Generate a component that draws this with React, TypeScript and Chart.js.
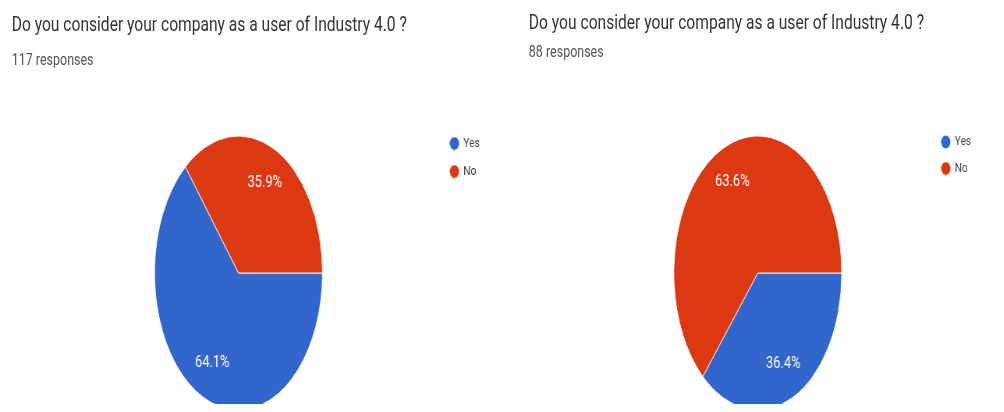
import React, { useEffect, useRef } from 'react';
import { Chart, registerables } from 'chart.js';

Chart.register(...registerables);

// ---- data ----
const TITLE = 'Do you consider your company as a user of Industry 4.0 ?';
const categories = ['Yes', 'No'];
const sliceColors = ['#3366CC', '#DC3912'];
const countsLeft = [75, 42]; // 117 responses -> 64.1% / 35.9%
const countsRight = [32, 56]; // 88 responses -> 36.4% / 63.6%
const subtitleLeft = '117 responses';
const subtitleRight = '88 responses';

// ---- geometry ----
const S = 0.78; // horizontal squeeze of the whole picture
const K = 0.786; // extra horizontal squeeze of the pies

function makeMarker(color: string) {
  const c = document.createElement('canvas');
  c.width = 13;
  c.height = 14;
  const ctx = c.getContext('2d')!;
  ctx.fillStyle = color;
  ctx.beginPath();
  ctx.ellipse(6.5, 7, 6, 6.5, 0, 0, Math.PI * 2);
  ctx.fill();
  return c;
}

const piePlugin = {
  id: 'squeezedPie',
  beforeDatasetsDraw(chart: any) {
    const arc = chart.getDatasetMeta(0).data[0];
    if (!arc) return;
    const ctx = chart.ctx;
    ctx.save();
    ctx.translate(arc.x, arc.y);
    ctx.scale(K, 1);
    ctx.translate(-arc.x, -arc.y);
  },
  afterDatasetsDraw(chart: any) {
    const meta = chart.getDatasetMeta(0);
    if (!meta.data[0]) return;
    const ctx = chart.ctx;
    ctx.restore();
    const data: number[] = chart.data.datasets[0].data;
    const total = data.reduce((a, b) => a + b, 0);
    ctx.save();
    ctx.fillStyle = '#ffffff';
    ctx.font = '16.5px Roboto';
    ctx.textAlign = 'center';
    ctx.textBaseline = 'middle';
    meta.data.forEach((arc: any, i: number) => {
      const { x, y, startAngle, endAngle, outerRadius } = arc.getProps(
        ['x', 'y', 'startAngle', 'endAngle', 'outerRadius'],
        true
      );
      const a = (startAngle + endAngle) / 2;
      const r = outerRadius * 0.73;
      const pct = ((data[i] / total) * 100).toFixed(1) + '%';
      ctx.fillText(pct, x + Math.cos(a) * r * K, y + Math.sin(a) * r);
    });
    ctx.restore();
  },
};

type PieProps = {
  counts: number[];
  left: number;
  width: number;
  height: number;
  legendGap: number;
};

function PiePanel({ counts, left, width, height, legendGap }: PieProps) {
  const ref = useRef<HTMLCanvasElement>(null);
  useEffect(() => {
    const markers = sliceColors.map((c) => makeMarker(c));
    const chart = new Chart(ref.current!, {
      type: 'pie',
      data: {
        labels: categories,
        datasets: [
          {
            data: counts,
            backgroundColor: sliceColors,
            borderColor: '#ffffff',
            borderWidth: 1,
            radius: 137,
          } as any,
        ],
      },
      options: {
        animation: false,
        responsive: true,
        maintainAspectRatio: false,
        rotation: 90,
        events: [],
        layout: { padding: { top: 122, bottom: 8, left: 0, right: 0 } },
        plugins: {
          tooltip: { enabled: false },
          legend: {
            position: 'right',
            align: 'start',
            labels: {
              usePointStyle: true,
              boxWidth: 10,
              boxHeight: 10,
              padding: legendGap,
              color: '#444444',
              font: { family: 'Roboto', size: 13 },
              generateLabels: () =>
                categories.map((t, i) => ({
                  text: t,
                  fillStyle: sliceColors[i],
                  strokeStyle: sliceColors[i],
                  lineWidth: 0,
                  pointStyle: markers[i],
                  hidden: false,
                  index: i,
                  fontColor: '#444444',
                })),
            },
          },
        },
      },
      plugins: [piePlugin],
    });
    return () => chart.destroy();
  }, []);
  return (
    <div style={{ position: 'absolute', left, top: 0, width, height }}>
      <canvas ref={ref} />
    </div>
  );
}

const titleStyle: React.CSSProperties = {
  position: 'absolute',
  fontFamily: 'Roboto, sans-serif',
  fontSize: 20,
  lineHeight: '24px',
  color: '#333333',
  whiteSpace: 'nowrap',
};
const subStyle: React.CSSProperties = {
  position: 'absolute',
  fontFamily: 'Roboto, sans-serif',
  fontSize: 16,
  lineHeight: '20px',
  color: '#555555',
  whiteSpace: 'nowrap',
};

export default function App() {
  return (
    <div
      style={{
        position: 'relative',
        width: 1004,
        height: 412,
        margin: -8,
        overflow: 'hidden',
        background: '#ffffff',
      }}
    >
      <div
        style={{
          position: 'absolute',
          left: 0,
          top: 0,
          width: 1004 / S,
          height: 412,
          transform: `scaleX(${S})`,
          transformOrigin: '0 0',
        }}
      >
        <div style={{ ...titleStyle, left: 15, top: 12 }}>{TITLE}</div>
        <div style={{ ...subStyle, left: 15, top: 50 }}>{subtitleLeft}</div>
        <div style={{ ...titleStyle, left: 678, top: 10 }}>{TITLE}</div>
        <div style={{ ...subStyle, left: 678, top: 42 }}>{subtitleRight}</div>
        <PiePanel counts={countsLeft} left={48.5} width={576} height={432} legendGap={15} />
        <PiePanel counts={countsRight} left={748.5} width={506} height={432} legendGap={13.5} />
      </div>
    </div>
  );
}
